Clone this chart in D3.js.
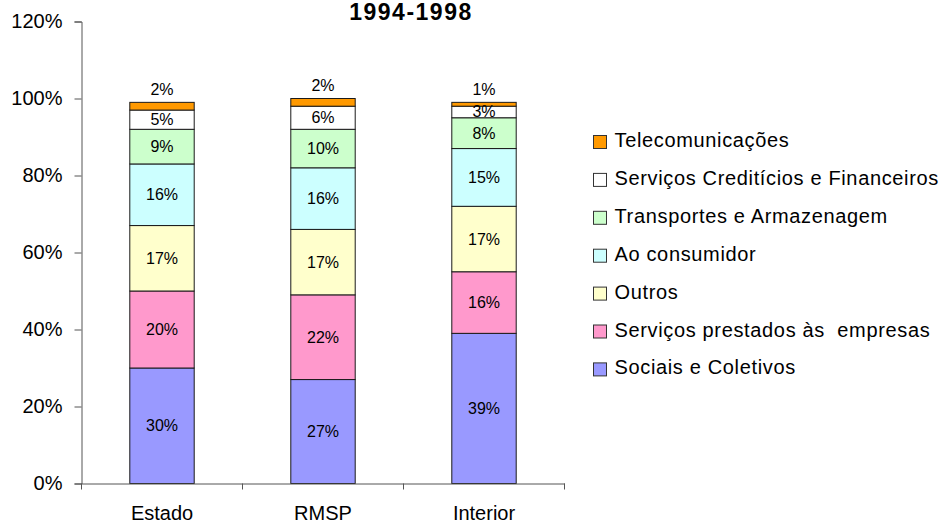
<!DOCTYPE html>
<html>
<head>
<meta charset="utf-8">
<script src="https://cdn.jsdelivr.net/npm/d3@7"></script>
<style>
  html, body { margin: 0; padding: 0; background: #fff; }
  svg { display: block; font-family: "Liberation Sans", Arial, sans-serif; }
</style>
</head>
<body>
<svg id="chart" width="943" height="524"></svg>
<script>
// ---- data ----
const title = "1994-1998";
const categories = ["Estado", "RMSP", "Interior"];
const seriesNames = [
  "Sociais e Coletivos",
  "Serviços prestados às  empresas",
  "Outros",
  "Ao consumidor",
  "Transportes e Armazenagem",
  "Serviços Creditícios e Financeiros",
  "Telecomunicações"
];
const sociais      = [30, 27, 39];
const prestados    = [20, 22, 16];
const outros       = [17, 17, 17];
const consumidor   = [16, 16, 15];
const transportes  = [9, 10, 8];
const crediticios  = [5, 6, 3];
const telecom      = [2, 2, 1];
const yTicks = [0, 20, 40, 60, 80, 100, 120];

const seriesValues = [sociais, prestados, outros, consumidor, transportes, crediticios, telecom];
const colors = ["#9999FF", "#FF99CC", "#FFFFCC", "#CCFFFF", "#CCFFCC", "#FFFFFF", "#FF9900"];

// ---- layout ----
const svg = d3.select("#chart");
const plot = { left: 81.5, right: 564.5, top: 21.5, bottom: 483.5 };

const x = d3.scaleBand().domain(categories).range([plot.left, plot.right]).padding(0);
const y = d3.scaleLinear().domain([0, 120]).range([plot.bottom, plot.top]);
const barW = x.bandwidth() * 0.4;

// stack
const rows = categories.map((c, i) => {
  const o = { cat: c };
  seriesNames.forEach((s, j) => o[s] = seriesValues[j][i]);
  return o;
});
const stack = d3.stack().keys(seriesNames)(rows);

// bars
const g = svg.append("g");
stack.forEach((layer, j) => {
  g.selectAll(null).data(layer).enter().append("rect")
    .attr("x", d => x(d.data.cat) + x.bandwidth() / 2 - barW / 2)
    .attr("y", d => y(d[1]))
    .attr("width", barW)
    .attr("height", d => y(d[0]) - y(d[1]))
    .attr("fill", colors[j])
    .attr("stroke", "#1a1a1a")
    .attr("stroke-width", 1);
});

// labels
stack.forEach((layer, j) => {
  const last = j === stack.length - 1;
  g.selectAll(null).data(layer).enter().append("text")
    .attr("x", d => x(d.data.cat) + x.bandwidth() / 2)
    .attr("y", d => last ? y(d[1]) - 13 : (y(d[0]) + y(d[1])) / 2)
    .attr("text-anchor", "middle")
    .attr("dominant-baseline", "central")
    .attr("font-size", 16)
    .attr("fill", "#000")
    .text(d => (d[1] - d[0]) + "%");
});

// y axis
const yAxis = d3.axisLeft(y).tickValues(yTicks).tickFormat(d => d + "%").tickSize(7).tickPadding(12);
const yg = svg.append("g").attr("transform", `translate(${plot.left},0)`).call(yAxis);
yg.select(".domain").attr("stroke", "#555");
yg.selectAll(".tick line").attr("stroke", "#555");
yg.selectAll(".tick text").attr("font-size", 20).attr("fill", "#000")
  .attr("font-family", '"Liberation Sans", Arial, sans-serif');

// x axis
const xAxis = d3.axisBottom(x).tickSize(0).tickPadding(22);
const xg = svg.append("g").attr("transform", `translate(0,${plot.bottom})`).call(xAxis);
xg.select(".domain").attr("stroke", "#555");
xg.selectAll(".tick text").attr("font-size", 20).attr("fill", "#000")
  .attr("font-family", '"Liberation Sans", Arial, sans-serif');
// category separator ticks
const sepPositions = categories.map(c => x(c)).concat([x.range()[1]]);
xg.selectAll(".sep").data(sepPositions).enter().append("line")
  .attr("class", "sep")
  .attr("x1", d => d).attr("x2", d => d)
  .attr("y1", 0).attr("y2", 6)
  .attr("stroke", "#555");

// title
svg.append("text")
  .attr("x", 411).attr("y", 20)
  .attr("text-anchor", "middle")
  .attr("font-size", 23).attr("font-weight", "bold")
  .attr("letter-spacing", 1.5)
  .text(title);

// legend (top to bottom: reverse of stack order)
const legendOrder = seriesNames.map((s, j) => ({ name: s, color: colors[j] })).reverse();
const legend = svg.append("g");
const lg = legend.selectAll("g").data(legendOrder).enter().append("g")
  .attr("transform", (d, i) => `translate(593.5, ${135.5 + i * 37.9})`);
lg.append("rect")
  .attr("width", 13).attr("height", 13)
  .attr("fill", d => d.color)
  .attr("stroke", "#333").attr("stroke-width", 1);
lg.append("text")
  .attr("x", 21).attr("y", 11.5)
  .attr("font-size", 20)
  .attr("letter-spacing", 0.65)
  .attr("xml:space", "preserve")
  .style("white-space", "pre")
  .text(d => d.name);
</script>
</body>
</html>
